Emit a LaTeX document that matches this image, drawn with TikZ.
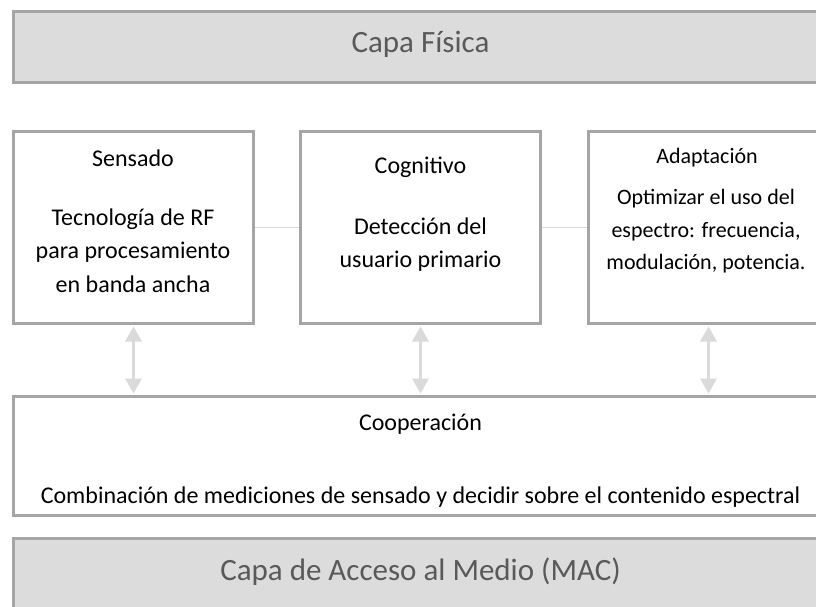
\documentclass[tikz,border=0pt]{standalone}
\usepackage{fontspec}
\setmainfont{Carlito}
\usetikzlibrary{arrows.meta}
\definecolor{bordergray}{HTML}{A5A5A5}
\definecolor{fillgray}{HTML}{DCDCDC}
\definecolor{titletext}{HTML}{595959}
\definecolor{linkgray}{HTML}{DADADA}
\tikzset{
  layerbox/.style={draw=bordergray, line width=3pt, fill=fillgray},
  unitbox/.style={draw=bordergray, line width=3pt, fill=white},
  titletxt/.style={anchor=base, inner sep=0pt, text=titletext, font=\fontsize{31}{37}\selectfont},
  bodytxt/.style={anchor=base, inner sep=0pt, text=black, font=\fontsize{24}{29}\selectfont},
  smalltxt/.style={anchor=base, inner sep=0pt, text=black, font=\fontsize{22}{26}\selectfont},
  linkline/.style={draw=linkgray, line width=1.5pt},
  dblarrow/.style={draw=linkgray, line width=3pt, {Triangle[width=16pt,length=15pt]}-{Triangle[width=16pt,length=15pt]}, shorten <=1.5pt, shorten >=1.5pt}
}
\begin{document}
\begin{tikzpicture}[x=1pt,y=-1pt]
\useasboundingbox (0,0) rectangle (816,607);
\clip (0,0) rectangle (816,607);
\fill[white] (0,0) rectangle (816,607);
% layer boxes
\draw[layerbox] (13.5,11.5) rectangle (828.5,82.5);
\draw[layerbox] (13.5,538.5) rectangle (828.5,612);
% unit boxes as named nodes
\node[unitbox, minimum width=240pt, minimum height=192pt, inner sep=0pt] (sen) at (133.5,227.5) {};
\node[unitbox, minimum width=240pt, minimum height=192pt, inner sep=0pt] (cog) at (420.5,227.5) {};
\node[unitbox, minimum width=240pt, minimum height=192pt, inner sep=0pt] (ada) at (708.5,227.5) {};
\node[unitbox, minimum width=815pt, minimum height=118.5pt, inner sep=0pt] (coop) at (421,455.75) {};
% connectors
\draw[linkline] (sen.east) -- (cog.west);
\draw[linkline] (cog.east) -- (ada.west);
\draw[dblarrow] (sen.south) -- (sen.south |- coop.north);
\draw[dblarrow] (cog.south) -- (cog.south |- coop.north);
\draw[dblarrow] (ada.south) -- (ada.south |- coop.north);
% texts
\node[titletxt] (t1) at (420.5,53) {Capa Física};
\node[titletxt] (t2) at (420.5,580) {Capa de Acceso al Medio (MAC)};
\node[bodytxt] (s1) at (133,166) {Sensado};
\node[bodytxt] (s2) at (133,225) {Tecnología de RF};
\node[bodytxt] (s3) at (133,258.5) {para procesamiento};
\node[bodytxt] (s4) at (133,292) {en banda ancha};
\node[bodytxt] (c1) at (420.5,173) {Cognitivo};
\node[bodytxt] (c2) at (420.5,234) {Detección del};
\node[bodytxt] (c3) at (420.5,267.5) {usuario primario};
\node[smalltxt] (a1) at (707,163) {Adaptación};
\node[smalltxt] (a2) at (706,204) {Optimizar el uso del};
\node[smalltxt] (a3) at (706,237) {espectro: frecuencia,};
\node[smalltxt] (a4) at (706,269.5) {modulación, potencia.};
\node[bodytxt] (p1) at (420.5,430) {Cooperación};
\node[bodytxt] (p2) at (420.5,503) {Combinación de mediciones de sensado y decidir sobre el contenido espectral};
\end{tikzpicture}
\end{document}
